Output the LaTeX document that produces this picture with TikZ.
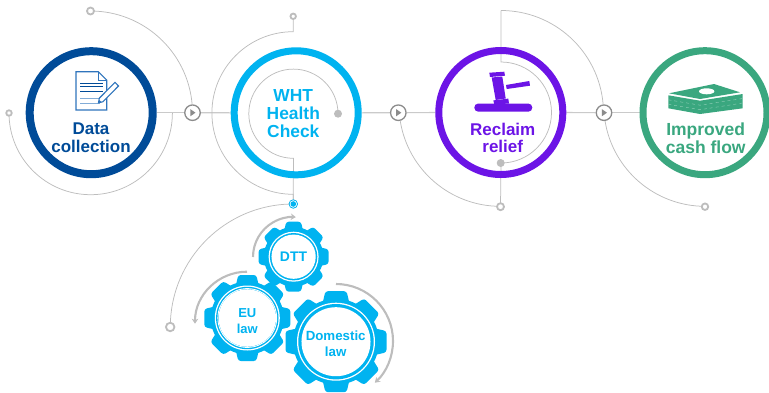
\documentclass[tikz,border=0pt]{standalone}
\usepackage{fontspec}
\setmainfont{Liberation Sans}
\usetikzlibrary{calc}
\usetikzlibrary{backgrounds}
\usetikzlibrary{arrows.meta}

\definecolor{datablue}{HTML}{004B98}
\definecolor{docblue}{HTML}{2F74BC}
\definecolor{checkblue}{HTML}{00B3F0}
\definecolor{reclaimpurple}{HTML}{6C14E6}
\definecolor{cashgreen}{HTML}{3AA77F}
\definecolor{wiregrey}{HTML}{BDBDBD}
\definecolor{playgrey}{HTML}{8C8C8C}

\tikzset{
    wire/.style={draw=wiregrey, line width=0.75pt},
    flow/.style={draw=wiregrey!80, line width=1.1pt},
    turn/.style={draw=wiregrey, line width=2.1pt, -{Stealth[length=5pt,width=6.5pt]}},
    ring/.style={circle, draw=#1, line width=7pt, inner sep=0pt, minimum size=124pt},
    steplabel/.style={text=#1, font=\fontsize{17}{17.6}\selectfont\bfseries, align=center, inner sep=0pt},
    gearlabel/.style={text=checkblue, font=\fontsize{#1}{16}\selectfont\bfseries, align=center, inner sep=0pt},
    endring/.style={circle, draw=wiregrey, fill=white, line width=1.8pt, inner sep=0pt, minimum size=#1},
    enddot/.style={circle, fill=wiregrey, inner sep=0pt, minimum size=8pt},
    playbtn/.style={circle, draw=playgrey, fill=white, line width=1.3pt, inner sep=0pt, minimum size=15.5pt,
        path picture={\fill[playgrey] ($(path picture bounding box.center)+(-2.2,3.6)$) -- ++(5.2,-3.6) -- ++(-5.2,-3.6) -- cycle;}},
    target/.style={circle, draw=checkblue, fill=white, line width=0.8pt, inner sep=0pt, minimum size=8.5pt,
        path picture={\fill[checkblue] (path picture bounding box.center) circle (2.8);}},
}

% One cog wheel: centre, outer radius, outer radius of the face
\newcommand{\gearwheel}[3]{
    \foreach \a in {0,45,...,315}
    {
        \fill[checkblue, shift={(#1)}, rotate=\a, rounded corners=2.6pt]
            (-0.28*#2, 0.7*#2) -- (-0.21*#2, #2) -- (0.21*#2, #2) -- (0.28*#2, 0.7*#2) -- cycle;
    }
    \fill[checkblue] (#1) circle (0.85*#2);
    \fill[white] (#1) circle (#3);
    \fill[checkblue] (#1) circle (#3-1.3);
    \fill[white] (#1) circle (0.885*#3);
}

\begin{document}
\begin{tikzpicture}[x=1pt, y=1pt]
    \useasboundingbox (0,-392) rectangle (769,0);

    % The four big rings
    \node[ring=datablue, line width=8pt, minimum size=123pt] (data) at (91.2,-112.7) {};
    \node[ring=checkblue] (health) at (296.2,-112.8) {};
    \node[ring=reclaimpurple] (reclaim) at (500.8,-112.5) {};
    \node[ring=cashgreen] (cash) at (705,-112.7) {};

    % The play buttons between them
    \node[playbtn] (playA) at (192.5,-112.7) {};
    \node[playbtn] (playB) at (398.3,-112.7) {};
    \node[playbtn] (playC) at (604,-112.7) {};

    % The ends of the thin arcs
    \node[endring=7pt] (pinA) at (90.5,-11) {};
    \node[endring=5.5pt] (pinB) at (9,-113) {};
    \node[endring=5.5pt] (pinC) at (293.2,-16.3) {};
    \node[enddot] (dotC) at (338,-113.7) {};
    \node[target] (targetC) at (293.3,-204) {};
    \node[endring=8.5pt] (pinD) at (170.2,-327) {};
    \node[enddot] (dotE) at (500.7,-163) {};
    \node[endring=7pt] (pinE) at (500.5,-206.7) {};
    \node[endring=6.5pt] (pinF) at (705,-206.7) {};
    \coordinate (topE) at (501,-10.5);

    \begin{pgfonlayer}{background}
        % The line through the rings
        \draw[flow] (data.east) -- (playA.west);
        \draw[flow] (playA.east) -- (health.west);
        \draw[flow] (health.east) -- (playB.west);
        \draw[flow] (playB.east) -- (reclaim.west);
        \draw[flow] (reclaim.east) -- (playC.west);
        \draw[flow] (playC.east) -- (cash.west);

        % Arcs of the first ring
        \draw[wire] (pinA.center) arc[start angle=90, end angle=5, radius=102];
        \draw[wire] (pinB.center) arc[start angle=180, end angle=360, radius=81.7];

        % Arcs of the second ring
        \draw[wire] (pinC.center) -- ++(0,-15.4) arc[start angle=90, end angle=270, radius=81.3] -- (targetC.center);
        \draw[wire] (dotC.center) arc[start angle=0, end angle=270, radius=44.6] -- (targetC.center);
        \draw[wire] (targetC.center) arc[start angle=90, end angle=180, radius=123];

        % Arcs of the third ring
        \draw[wire] (playB.center) ++(1.9,-8) arc[start angle=189, end angle=270, radius=101.5] -- (pinE.center);
        \draw[wire] (topE) arc[start angle=90, end angle=5, radius=102.5];
        \draw[wire] (topE) -- ++(0,-51.5) arc[start angle=90, end angle=-90, radius=50.5] -- (pinE.center);

        % Arc of the last ring
        \draw[wire] (playC.center) ++(1,-8) arc[start angle=189, end angle=270, radius=101.5] -- (pinF.center);
    \end{pgfonlayer}

    % The document and the pen
    \draw[docblue, fill=white, line width=1.1pt] (76,-71.7) -- (98.3,-71.7) -- (106.7,-80) -- (106.7,-110) -- (76,-110) -- cycle;
    \draw[docblue, line width=0.8pt] (98.3,-71.7) -- (98.3,-80) -- (106.7,-80);
    \foreach \y in {83.3,86,91.7}
    {
        \draw[datablue, line width=0.9pt] (80,-\y) -- (103,-\y);
    }
    \foreach \y in {98.3,103.3}
    {
        \draw[docblue!60, line width=0.9pt] (80,-\y) -- (100,-\y);
    }
    \draw[docblue, fill=white, line width=1.1pt] (98.5,-102.8) -- (99.3,-98.2) -- (115,-82.4) -- (118.5,-86) -- (102.8,-101.8) -- cycle;
    \fill[docblue] (98.5,-102.8) -- (99,-99.8) -- (101.6,-102.2) -- cycle;

    % The gavel
    \fill[reclaimpurple] (489.3,-72.7) -- (504.3,-71.7) -- (505,-75.7) -- (490,-77) -- cycle;
    \fill[reclaimpurple] (491.7,-77.5) -- (502.3,-76.5) -- (505.7,-98.5) -- (495.7,-100) -- cycle;
    \fill[reclaimpurple] (493.3,-100.4) -- (508.3,-98.6) -- (509,-103.5) -- (494.3,-104.5) -- cycle;
    \fill[reclaimpurple] (506,-85) -- (529.3,-81) -- (530,-85.7) -- (506.7,-89) -- cycle;
    \fill[reclaimpurple, rounded corners=4pt] (474.3,-103.5) rectangle (532.3,-111.7);

    % The stack of notes
    \fill[cashgreen] (668.3,-95.3) -- (700,-100.7) -- (742.7,-94) -- (742.7,-108.3) -- (700,-114) -- (668.3,-108.3) -- cycle;
    \fill[cashgreen] (669,-93.3) -- (714,-84) -- (740,-92.3) -- (700,-99) -- cycle;
    \fill[white] (706.7,-91.3) ellipse (7.7 and 3);
    \foreach \y in {4.5,9}
    {
        \draw[white!45!cashgreen, line width=0.4pt, dashed] (668.3,-95.3-\y) -- (700,-100.7-\y) -- (742.7,-94-\y);
    }

    % The labels of the rings
    \node[steplabel=datablue] (dataText) at (91,-138) {Data\\collection};
    \node[steplabel=checkblue, font=\fontsize{17.4}{18}\selectfont\bfseries] (healthText) at (293.3,-114) {WHT\\Health\\Check};
    \node[steplabel=reclaimpurple] (reclaimText) at (502.7,-138) {Reclaim\\relief};
    \node[steplabel=cashgreen, font=\fontsize{17.5}{17.8}\selectfont\bfseries] (cashText) at (705.7,-138) {Improved\\cash flow};

    % The cog wheels, their labels and their turning arrows
    \gearwheel{293.6,-256.7}{35}{25}
    \gearwheel{247.3,-318}{43}{32.5}
    \draw[white, line width=0.9pt] (247.3,-318) circle (29.4);
    \fill[white] (247.3,-318) circle (26.3);
    \gearwheel{336,-341.7}{50.5}{39}
    \node[gearlabel=13.9] (dtt) at (293.5,-256.7) {DTT};
    \node[gearlabel=13] (eu) at (247.3,-321) {EU\\law};
    \node[gearlabel=13.3] (domestic) at (335.7,-344) {Domestic\\law};

    \coordinate (turnDtt) at (253,-257);
    \coordinate (turnEu) at (247,-271.7);
    \coordinate (turnDomestic) at (336,-284);
    \draw[turn] (turnDtt) arc[start angle=180, end angle=86, radius=40];
    \draw[turn] (turnEu) arc[start angle=90, end angle=180, radius=52];
    \draw[turn] (turnDomestic) arc[start angle=90, end angle=-47, radius=57];
\end{tikzpicture}
\end{document}
